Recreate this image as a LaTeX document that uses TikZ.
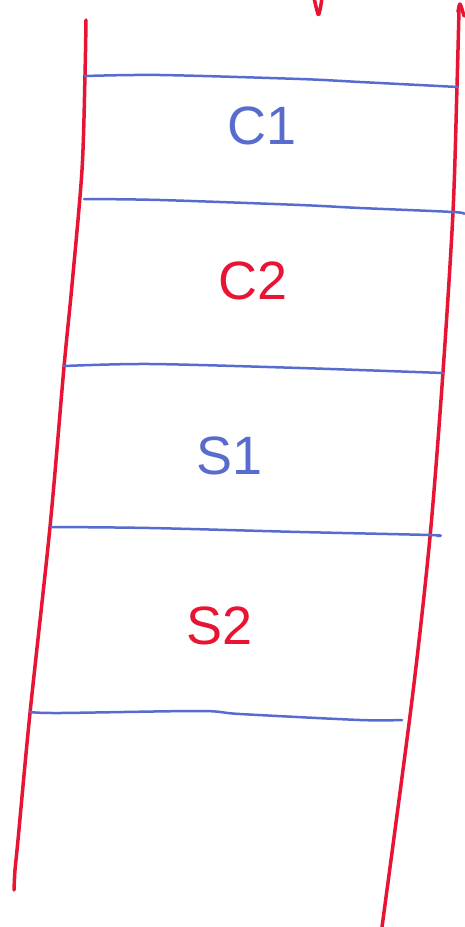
\documentclass[tikz,border=0pt]{standalone}
\usepackage{fontspec}
\setmainfont{Liberation Sans}
\definecolor{penred}{RGB}{232,20,52}
\definecolor{penblue}{RGB}{88,108,205}
\tikzset{
  redpen/.style={draw=penred, line width=3.5pt, line cap=round, line join=round},
  bluepen/.style={draw=penblue, line width=2.5pt, line cap=round, line join=round},
  lbl/.style={font=\fontsize{54}{54}\selectfont, inner sep=0pt}
}
\begin{document}
\begin{tikzpicture}[x=1pt,y=-1pt]
\useasboundingbox (0,0) rectangle (464,927);
% red side lines
\draw[redpen] plot[smooth, tension=0.5] coordinates {(86,20) (85,75) (82,170) (72,285) (64,367) (50,527) (30,713) (18,840) (15,870) (14,890)};
\draw[redpen] plot[smooth, tension=0.5] coordinates {(459,10) (457,86) (453,212) (443,372) (430,537) (412,700) (382,927)};
\draw[redpen] plot[smooth] coordinates {(458,12) (460,4) (464,16)};
\draw[redpen] plot[smooth] coordinates {(314,-2) (318,14) (320,10) (322,-2)};
% blue dividers
\draw[bluepen] plot[smooth] coordinates {(85,76) (160,75) (300,79) (360,82) (458,87)};
\draw[bluepen] plot[smooth] coordinates {(84,199) (160,200) (300,205) (360,208) (453,212) (464,214)};
\draw[bluepen] plot[smooth] coordinates {(64,366) (150,364) (300,368) (443,373)};
\draw[bluepen] plot[smooth] coordinates {(51,527) (150,528) (300,532) (430,535) (437,536)};
\draw[bluepen] plot[smooth] coordinates {(30,712) (60,713) (200,711) (240,714) (360,720) (402,720)};
% labels
\node[lbl, text=penblue] (c1) at (262,126) {C1};
\node[lbl, text=penred] (c2) at (253,281) {C2};
\node[lbl, text=penblue] (s1) at (230,456) {S1};
\node[lbl, text=penred] (s2) at (220,626) {S2};
\end{tikzpicture}
\end{document}
